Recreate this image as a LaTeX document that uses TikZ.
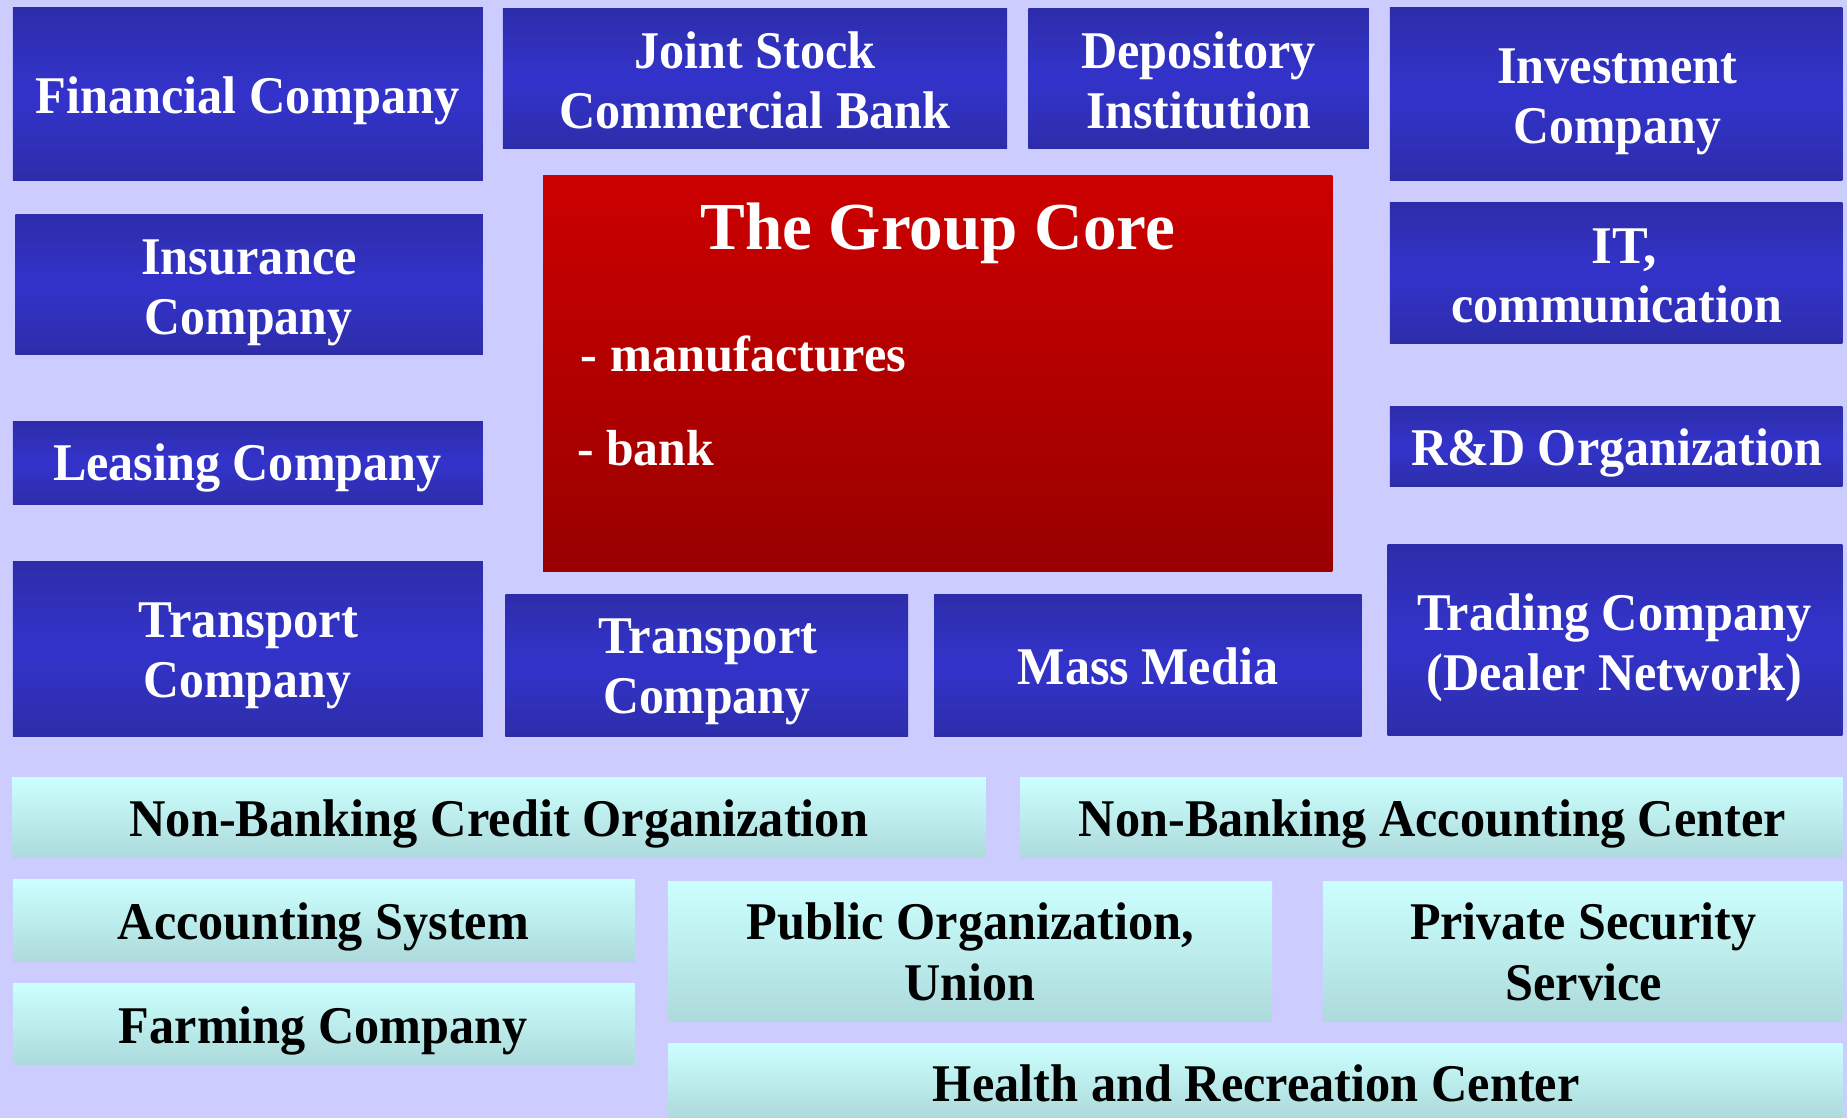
\documentclass[tikz,border=0pt]{standalone}
\usepackage{fontspec}
\setmainfont{Liberation Serif}
\usepackage{graphicx}

\definecolor{bgc}{RGB}{204,204,255}
\definecolor{blueEdge}{RGB}{45,45,170}
\definecolor{blueMid}{RGB}{51,51,204}
\definecolor{redTop}{RGB}{204,0,0}
\definecolor{redBot}{RGB}{153,0,0}
\definecolor{cyanTop}{RGB}{204,255,255}
\definecolor{cyanBot}{RGB}{173,218,218}

% set a line of text to a given width, keeping its natural height
\newcommand\fw[2]{\resizebox{#1pt}{\height}{#2}}

% rectangle node from its corner coordinates (x1,y1) and (x2,y2)
\newcommand\unit[6]{%
  \node[#2, minimum width={(#5-#3)*1pt}, minimum height={(#6-#4)*1pt}]
    (#1) at ({(#3+#5)/2},{(#4+#6)/2}) {};}

\tikzset{
  panel/.style={inner sep=0pt, outer sep=0pt, draw=none, rectangle},
  bluebox/.style={panel, top color=blueEdge, bottom color=blueEdge, middle color=blueMid},
  redbox/.style={panel, top color=redTop, bottom color=redBot},
  cyanbox/.style={panel, top color=cyanTop, bottom color=cyanBot},
  wtxt/.style={inner sep=0pt, anchor=base, text=white, font=\fontsize{45}{52}\selectfont\bfseries},
  btxt/.style={inner sep=0pt, anchor=base, text=black, font=\fontsize{45}{52}\selectfont\bfseries},
}

\begin{document}
\begin{tikzpicture}[x=1pt, y=-1pt]
\useasboundingbox (0,0) rectangle (1568,949);
\fill[bgc] (0,0) rectangle (1568,949);

% blue units
\unit{fin}{bluebox}{11}{6}{410}{153}
\unit{jsb}{bluebox}{427}{7}{855}{126}
\unit{dep}{bluebox}{873}{7}{1162}{126}
\unit{inv}{bluebox}{1180}{6}{1564}{153}
\unit{ins}{bluebox}{13}{182}{410}{301}
\unit{itc}{bluebox}{1180}{172}{1564}{292}
\unit{lea}{bluebox}{11}{358}{410}{428}
\unit{rnd}{bluebox}{1180}{345}{1564}{413}
\unit{trl}{bluebox}{11}{477}{410}{625}
\unit{trm}{bluebox}{429}{505}{771}{625}
\unit{mms}{bluebox}{793}{505}{1156}{625}
\unit{trd}{bluebox}{1178}{462}{1564}{624}

% the core
\unit{core}{redbox}{461}{149}{1131}{485}

% light units
\unit{nbc}{cyanbox}{10}{660}{837}{728}
\unit{nba}{cyanbox}{866}{660}{1564}{728}
\unit{acc}{cyanbox}{11}{747}{539}{816}
\unit{frm}{cyanbox}{11}{835}{539}{904}
\unit{pub}{cyanbox}{567}{748}{1080}{867}
\unit{prv}{cyanbox}{1123}{748}{1564}{867}
\unit{hlt}{cyanbox}{567}{886}{1564}{949}

% labels of the blue units
\node[wtxt] (fin-a) at (210,96) {\fw{360}{Financial Company}};
\node[wtxt] (jsb-a) at (641,58) {\fw{205}{Joint Stock}};
\node[wtxt] (jsb-b) at (641,109) {\fw{332}{Commercial Bank}};
\node[wtxt] (dep-a) at (1017.5,58) {\fw{199}{Depository}};
\node[wtxt] (dep-b) at (1017.5,109) {\fw{191}{Institution}};
\node[wtxt] (inv-a) at (1373,71) {\fw{204}{Investment}};
\node[wtxt] (inv-b) at (1373,122) {\fw{176}{Company}};
\node[wtxt] (ins-a) at (211.5,233) {\fw{183}{Insurance}};
\node[wtxt] (ins-b) at (211,284) {\fw{176}{Company}};
\node[wtxt] (itc-a) at (1379,224) {\fw{56}{IT,}};
\node[wtxt] (itc-b) at (1372.5,274) {\fw{281}{communication}};
\node[wtxt] (lea-a) at (210,408) {\fw{330}{Leasing Company}};
\node[wtxt] (rnd-a) at (1372.5,395) {\fw{349}{R\&D Organization}};
\node[wtxt] (trl-a) at (211,541) {\fw{186}{Transport}};
\node[wtxt] (trl-b) at (210,592) {\fw{176}{Company}};
\node[wtxt] (trm-a) at (601,555) {\fw{186}{Transport}};
\node[wtxt] (trm-b) at (600,606) {\fw{176}{Company}};
\node[wtxt] (mms-a) at (974.5,581) {\fw{221}{Mass Media}};
\node[wtxt] (trd-a) at (1370.5,535) {\fw{335}{Trading Company}};
\node[wtxt] (trd-b) at (1370.5,586) {\fw{319}{(Dealer Network)}};

% the core's text
\node[wtxt, font=\fontsize{57}{60}\selectfont\bfseries] (core-a) at (796,212) {\fw{403}{The Group Core}};
\node[wtxt, anchor=base west, font=\fontsize{43}{48}\selectfont\bfseries] (core-b) at (493,315) {\fw{276}{- manufactures}};
\node[wtxt, anchor=base west, font=\fontsize{43}{48}\selectfont\bfseries] (core-c) at (490,395) {\fw{116}{- bank}};

% labels of the light units
\node[btxt] (nbc-a) at (423.5,710) {\fw{627}{Non-Banking Credit Organization}};
\node[btxt] (nba-a) at (1216,710) {\fw{600}{Non-Banking Accounting Center}};
\node[btxt] (acc-a) at (274.5,798) {\fw{349}{Accounting System}};
\node[btxt] (frm-a) at (274.5,886) {\fw{347}{Farming Company}};
\node[btxt] (pub-a) at (824,798) {\fw{380}{Public Organization,}};
\node[btxt] (pub-b) at (823.5,849) {\fw{111}{Union}};
\node[btxt] (prv-a) at (1344,798) {\fw{294}{Private Security}};
\node[btxt] (prv-b) at (1344.5,849) {\fw{133}{Service}};
\node[btxt] (hlt-a) at (1066.5,935) {\fw{549}{Health and Recreation Center}};
\end{tikzpicture}
\end{document}
